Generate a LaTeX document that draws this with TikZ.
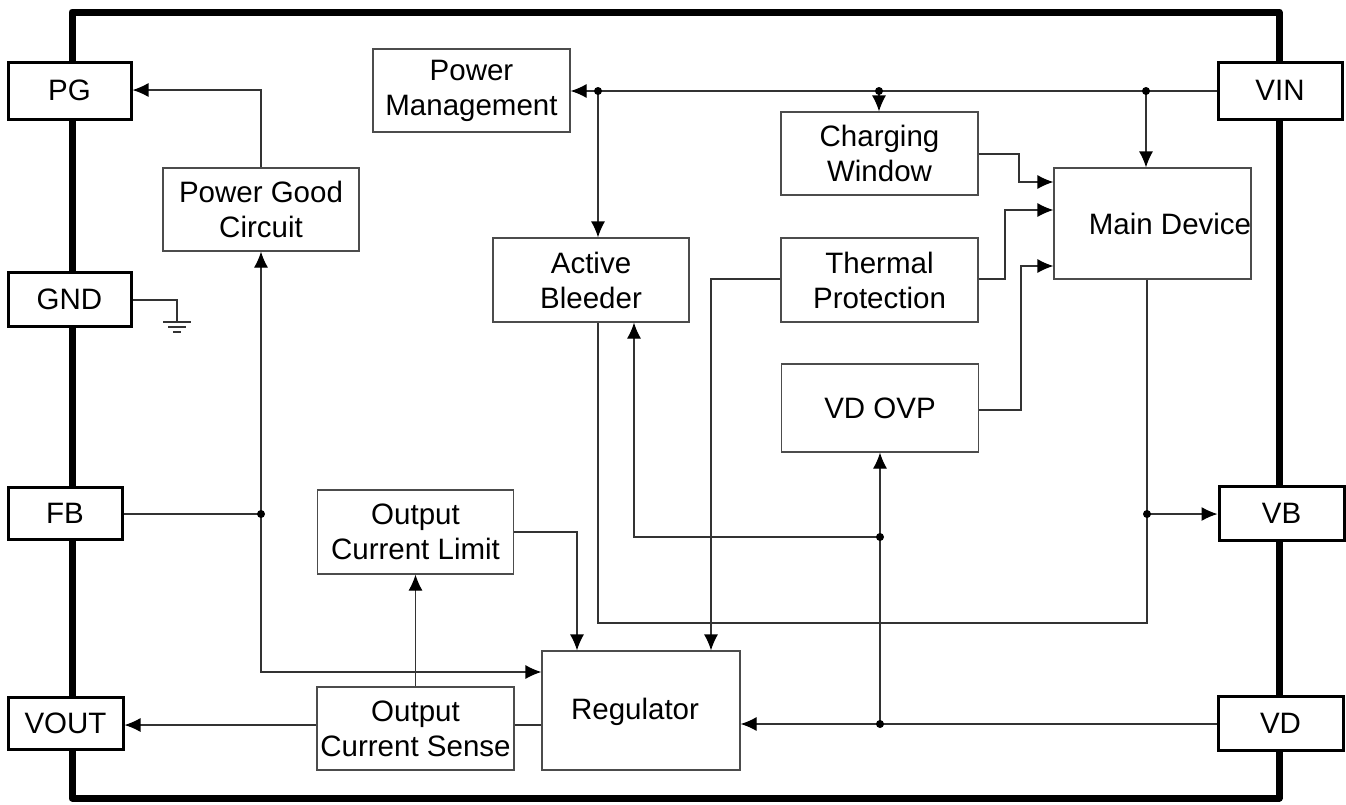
\documentclass[tikz,border=0pt]{standalone}
\usepackage{fontspec}
\setmainfont{Liberation Sans}
\usetikzlibrary{arrows.meta}
\begin{document}
\begin{tikzpicture}[x=1pt,y=-1pt,
  txt/.style={font=\fontsize{29.5}{35}\selectfont},
  blk/.style={txt, draw=black!70, line width=1.2pt, fill=white, inner sep=0pt, align=center},
  pin/.style={txt, draw=black, line width=3pt, fill=white, inner sep=0pt},
  wire/.style={draw=black!80, line width=1.2pt},
  arr/.style={wire, -{Latex[length=16pt,width=14pt,color=black]}},
  jdot/.style={fill=black}
]
\useasboundingbox (0,0) rectangle (1346,804);
% frame
\draw[line width=7pt, line join=round] (72,12) rectangle (1279,798);

% pins
\node[pin, minimum width=123pt, minimum height=57pt] (PG) at (69.5,90.5) {PG};
\node[pin, minimum width=123pt, minimum height=54pt] (GND) at (69.5,299) {GND};
\node[pin, minimum width=114pt, minimum height=52pt] (FB) at (65,513) {FB};
\node[pin, minimum width=115pt, minimum height=52pt] (VOUT) at (65.5,723) {VOUT};
\node[pin, minimum width=124pt, minimum height=57pt] (VIN) at (1280,90.5) {VIN};
\node[pin, minimum width=125pt, minimum height=54pt] (VB) at (1281.5,513) {VB};
\node[pin, minimum width=125pt, minimum height=54pt] (VD) at (1280.5,723) {VD};

% blocks
\node[blk, minimum width=197pt, minimum height=83pt] (pm) at (471.5,90.5) {Power\\Management};
\node[blk, minimum width=196pt, minimum height=83pt] (pgc) at (261,209.5) {Power Good\\Circuit};
\node[blk, minimum width=197pt, minimum height=83pt] (cw) at (879.5,153.5) {Charging\\Window};
\node[blk, minimum width=196pt, minimum height=84pt] (ab) at (591,280) {Active\\Bleeder};
\node[blk, minimum width=197pt, minimum height=84pt] (tp) at (879.5,280) {Thermal\\Protection};
\node[blk, minimum width=197pt, minimum height=111pt] (md) at (1152.5,223.5) {};
\node[txt] (mdt) at (1170,223.5) {Main Device};
\node[blk, minimum width=197pt, minimum height=88pt] (ovp) at (880,408) {VD OVP};
\node[blk, minimum width=196pt, minimum height=84pt] (ocl) at (415.5,532) {Output\\Current Limit};
\node[blk, minimum width=198pt, minimum height=119pt] (reg) at (641,710.5) {};
\node[txt] (regt) at (635,712) {Regulator};
\node[blk, minimum width=197pt, minimum height=83pt] (ocs) at (415.5,728.5) {Output\\Current Sense};

% junctions
\coordinate (j1) at (598,91);
\coordinate (j2) at (879,91);
\coordinate (j3) at (1146,91);
\coordinate (j4) at (1147,514);
\coordinate (j5) at (880,724);
\coordinate (j6) at (880,537);
\coordinate (j7) at (261,514);

% VIN bus
\draw[arr] (VIN.west |- j1) -- (pm.east |- j1);
\draw[arr] (j2) -- (j2 |- cw.north);
\draw[arr] (j3) -- (j3 |- md.north);
\draw[arr] (j1) -- (j1 |- ab.north);

% into main device
\draw[arr] (cw.east |- 0,154) -- (1019,154) -- (1019,182) -- (md.west |- 0,182);
\draw[arr] (tp.east |- 0,279) -- (1005,279) -- (1005,210) -- (md.west |- 0,210);
\draw[arr] (ovp.east |- 0,410) -- (1021,410) -- (1021,266) -- (md.west |- 0,266);

% thermal to regulator
\draw[arr] (tp.west |- 0,279) -- (711,279) -- (711,0 |- reg.north);

% main device down, bleeder loop
\draw[wire] (j3 |- md.south) ++(1,0) -- (1147,623) -- (598,623) -- (598,0 |- ab.south);
\draw[arr] (j4) -- (VB.west |- j4);

% VD
\draw[arr] (VD.west |- j5) -- (reg.east |- j5);
\draw[arr] (j5) -- (j5 |- ovp.south);
\draw[arr] (j6) -- (634,537) -- (634,0 |- ab.south);

% current limit / sense
\draw[arr] (ocl.east |- 0,532) -- (577,532) -- (577,0 |- reg.north);
\draw[arr] (ocs.north) -- (ocs.north |- ocl.south);
\draw[wire] (ocs.east |- 0,725) -- (reg.west |- 0,725);
\draw[arr] (ocs.west |- 0,725) -- (VOUT.east |- 0,725);

% FB / power good
\draw[wire] (FB.east |- j7) -- (j7);
\draw[arr] (j7) -- (j7 |- pgc.south);
\draw[arr] (j7) -- (261,672) -- (reg.west |- 0,672);
\draw[arr] (pgc.north) -- (261,90) -- (PG.east |- 0,90);

% GND
\coordinate (g) at (177,322);
\draw[wire] (GND.east |- 0,300) -- (177,300) -- (g);
\draw[wire] ([xshift=-14pt]g) -- ([xshift=14pt]g);
\draw[wire] ([xshift=-9pt,yshift=-5pt]g) -- ([xshift=9pt,yshift=-5pt]g);
\draw[wire] ([xshift=-4pt,yshift=-10pt]g) -- ([xshift=4pt,yshift=-10pt]g);

% dots
\foreach \j in {j1,j2,j3,j4,j5,j6,j7} \fill[jdot] (\j) circle (4pt);
\end{tikzpicture}
\end{document}
